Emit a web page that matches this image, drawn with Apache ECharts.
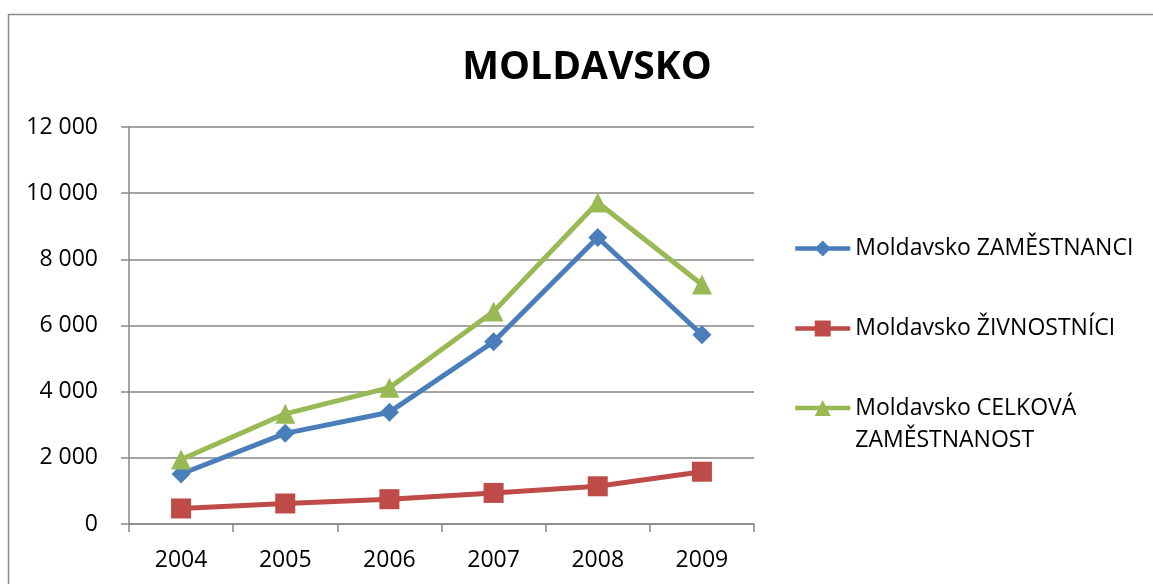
<!DOCTYPE html>
<html>
<head>
<meta charset="utf-8">
<script src="https://cdn.jsdelivr.net/npm/echarts@6/dist/echarts.min.js"></script>
<style>
  html, body { margin: 0; padding: 0; background: #fff; }
  #chart { width: 1153px; height: 584px; }
</style>
</head>
<body>
<div id="chart"></div>
<script>
var years = ['2004', '2005', '2006', '2007', '2008', '2009'];
var zamestnanci = [1510, 2740, 3380, 5510, 8660, 5720];
var zivnostnici = [470, 620, 750, 940, 1140, 1580];
var celkova = [1950, 3330, 4120, 6420, 9720, 7240];
var names = ['Moldavsko ZAMĚSTNANCI', 'Moldavsko ŽIVNOSTNÍCI', 'Moldavsko CELKOVÁ ZAMĚSTNANOST'];

var font = '"Open Sans", "Noto Sans", sans-serif';
var gray = '#868686';

var chart = echarts.init(document.getElementById('chart'));

// 12000 -> "12 000"
function fmt(v) {
    var s = String(v);
    if (s.length > 3) s = s.slice(0, s.length - 3) + ' ' + s.slice(s.length - 3);
    return s;
}

function legendAt(name, top, twoLines) {
    var l = {
        data: [name],
        left: 788,
        top: top,
        orient: 'vertical',
        itemWidth: 55,
        itemHeight: 20,
        itemGap: 0,
        selectedMode: false,
        lineStyle: { width: 4.5 },
        textStyle: { fontFamily: font, fontSize: 23, color: '#000' }
    };
    if (twoLines) {
        // empty first line so the icon sits on the first visible line
        l.formatter = function () { return '\nMoldavsko CELKOVÁ\nZAMĚSTNANOST'; };
        l.textStyle.lineHeight = 32;
    }
    return l;
}

var option = {
    backgroundColor: '#fff',
    animation: false,
    title: {
        text: 'MOLDAVSKO',
        left: 582,
        textAlign: 'center',
        top: 43,
        textStyle: { fontFamily: font, fontSize: 39, fontWeight: 'bold', color: '#000' }
    },
    graphic: [{
        type: 'rect',
        shape: { x: 8.5, y: 14.5, width: 1200, height: 700 },
        style: { fill: 'none', stroke: '#8c8c8c', lineWidth: 1.5 },
        silent: true
    }],
    legend: [
        legendAt(names[0], 232, false),
        legendAt(names[1], 312, false),
        legendAt(names[2], 355, true)
    ],
    grid: { left: 129, right: 399, top: 127, bottom: 60, containLabel: false },
    xAxis: {
        type: 'category',
        data: years,
        boundaryGap: true,
        axisLine: { show: true, lineStyle: { color: gray, width: 1.5 } },
        axisTick: { show: true, length: 8, inside: false, alignWithLabel: false, lineStyle: { color: gray, width: 1.5 } },
        axisLabel: { margin: 25, fontFamily: font, fontSize: 23, color: '#000' },
        splitLine: { show: false }
    },
    yAxis: {
        type: 'value',
        min: 0,
        max: 12000,
        interval: 2000,
        axisLine: { show: true, lineStyle: { color: gray, width: 1.5 } },
        axisTick: { show: true, length: 8, inside: false, lineStyle: { color: gray, width: 1.5 } },
        axisLabel: { margin: 31, fontFamily: font, fontSize: 23, color: '#000', formatter: fmt },
        splitLine: { show: true, lineStyle: { color: gray, width: 1.5 } }
    },
    series: [
        {
            name: names[0], type: 'line', data: zamestnanci,
            symbol: 'diamond', symbolSize: 19,
            lineStyle: { color: '#4a7ebb', width: 5 },
            itemStyle: { color: '#4a7ebb' }
        },
        {
            name: names[1], type: 'line', data: zivnostnici,
            symbol: 'rect', symbolSize: 20,
            lineStyle: { color: '#be4b48', width: 5 },
            itemStyle: { color: '#be4b48' }
        },
        {
            name: names[2], type: 'line', data: celkova,
            symbol: 'triangle', symbolSize: 20,
            lineStyle: { color: '#98b954', width: 5 },
            itemStyle: { color: '#98b954' }
        }
    ]
};

chart.setOption(option);
</script>
</body>
</html>
